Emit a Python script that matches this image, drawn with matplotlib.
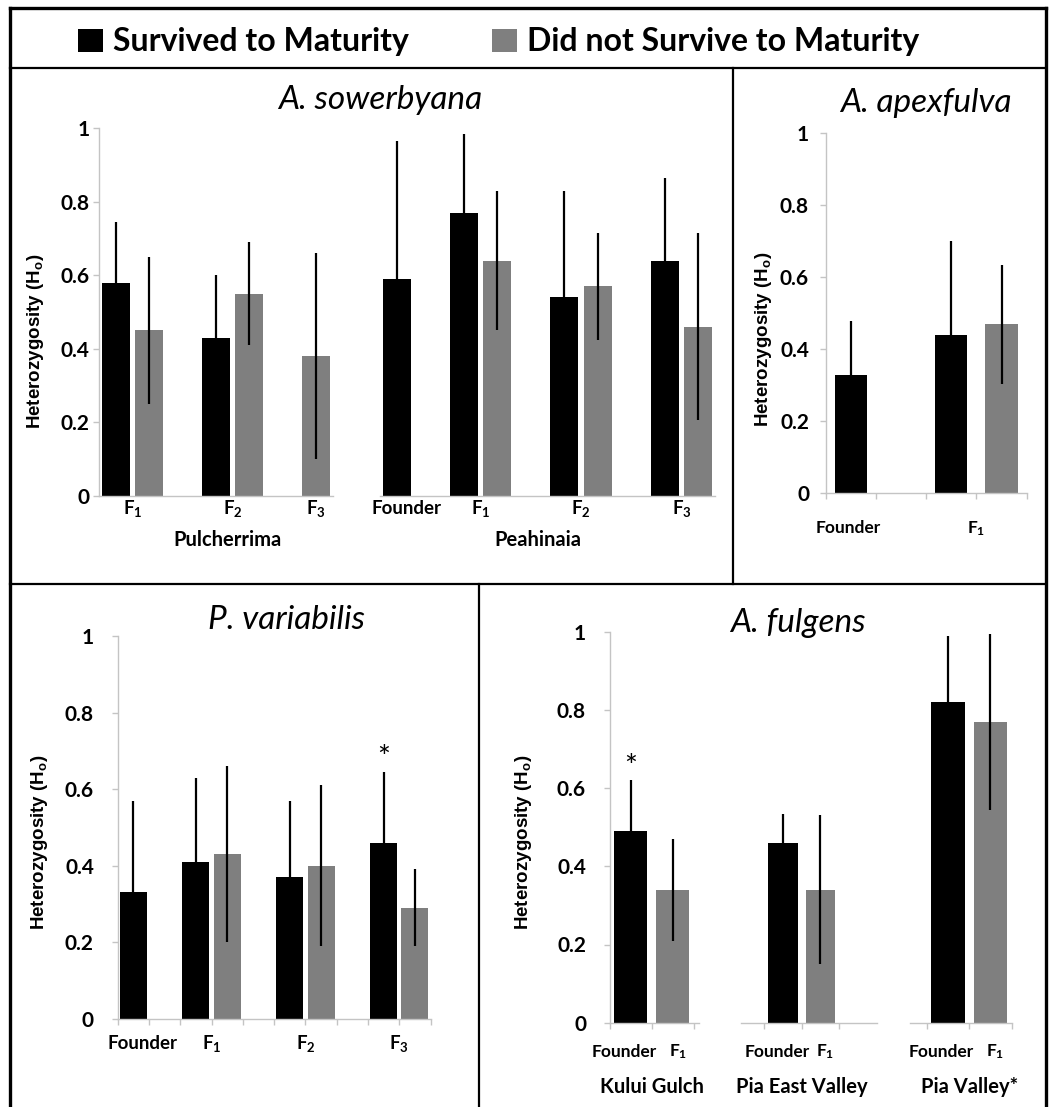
import numpy as np
import matplotlib
matplotlib.use("Agg")
import matplotlib.pyplot as plt
from matplotlib.lines import Line2D
from matplotlib.patches import Patch

plt.rcParams["font.family"] = ["Lato", "DejaVu Sans"]
plt.rcParams["mathtext.default"] = "regular"

W, H = 1053, 1107
SURV_COL = "#000000"
DIED_COL = "#7f7f7f"
AXIS_COL = "#c4c4c4"
nan = np.nan

# A. sowerbyana - Pulcherrima
pul_cats = ["F$_1$", "F$_2$", "F$_3$"]
pul_surv = [0.58, 0.43, nan]
pul_surv_sd = [0.165, 0.17, nan]
pul_died = [0.45, 0.55, 0.38]
pul_died_sd = [0.20, 0.14, 0.28]

# A. sowerbyana - Peahinaia
pea_cats = ["Founder", "F$_1$", "F$_2$", "F$_3$"]
pea_surv = [0.59, 0.77, 0.54, 0.64]
pea_surv_sd = [0.375, 0.215, 0.29, 0.225]
pea_died = [nan, 0.64, 0.57, 0.46]
pea_died_sd = [nan, 0.19, 0.145, 0.255]

# A. apexfulva
apx_cats = ["Founder", "F$_1$"]
apx_surv = [0.33, 0.44]
apx_surv_sd = [0.15, 0.26]
apx_died = [nan, 0.47]
apx_died_sd = [nan, 0.165]

# P. variabilis
pva_cats = ["Founder", "F$_1$", "F$_2$", "F$_3$"]
pva_surv = [0.33, 0.41, 0.37, 0.46]
pva_surv_sd = [0.24, 0.22, 0.20, 0.185]
pva_died = [nan, 0.43, 0.40, 0.29]
pva_died_sd = [nan, 0.23, 0.21, 0.10]
pva_star = [False, False, False, True]

# A. fulgens: founder (black) and F1 (grey) per site
ful_sites = ["Kului Gulch", "Pia East Valley", "Pia Valley*"]
ful_bar_labels = ["Founder", "F$_1$"]
ful_founder = [0.49, 0.46, 0.82]
ful_founder_sd = [0.13, 0.075, 0.17]
ful_f1 = [0.34, 0.34, 0.77]
ful_f1_sd = [0.13, 0.19, 0.225]
ful_star = [True, False, False]

yticks = [0, 0.2, 0.4, 0.6, 0.8, 1]
ytick_labels = ["0", "0.2", "0.4", "0.6", "0.8", "1"]
ylab = "Heterozygosity (H$_\\mathregular{o}$)"

fig = plt.figure(figsize=(W / 100, H / 100), dpi=100)


def slots(cats, surv, died):
    # one slot per bar, an empty slot between generations (Excel style)
    xs, xd, lab = [], [], []
    i = 0
    for k in range(len(cats)):
        occ = []
        if np.isnan(surv[k]):
            xs.append(nan)
        else:
            xs.append(i); occ.append(i); i += 1
        if np.isnan(died[k]):
            xd.append(nan)
        else:
            xd.append(i); occ.append(i); i += 1
        c = np.mean(occ)
        if len(occ) == 1 and k < len(cats) - 1:
            c += 0.3
        lab.append(c)
        i += 1
    return np.array(xs, float), np.array(xd, float), lab, i - 1


def make_ax(x0, slot_px, xlim, ybase, ytop, show_y=True, xticklen=4, ypad=3):
    x1 = x0 + (xlim[1] - xlim[0]) * slot_px
    ax = fig.add_axes([x0 / W, 1 - ybase / H, (x1 - x0) / W, (ybase - ytop) / H])
    ax.set_xlim(xlim)
    ax.set_ylim(0, 1)
    for s in ["top", "right"]:
        ax.spines[s].set_visible(False)
    ax.spines["bottom"].set_color(AXIS_COL)
    ax.spines["left"].set_color(AXIS_COL)
    ax.spines["bottom"].set_linewidth(1.0)
    ax.spines["left"].set_linewidth(1.0)
    n = int(round(xlim[1] + 0.5))
    ax.set_xticks(np.arange(0, max(n, 2) + 1) - 0.5)
    ax.set_xticklabels([])
    ax.tick_params(axis="x", length=xticklen, color=AXIS_COL, width=1.0)
    if show_y:
        ax.set_yticks(yticks)
        ax.set_yticklabels(ytick_labels, fontsize=15, fontweight="bold")
        ax.tick_params(axis="y", length=4, color=AXIS_COL, width=1.0, pad=ypad)
    else:
        ax.spines["left"].set_visible(False)
        ax.set_yticks([])
    ax.patch.set_alpha(0)
    return ax


def bars(ax, x, vals, sd, color, width):
    vals = np.array(vals, float)
    sd = np.array(sd, float)
    m = ~np.isnan(vals)
    ax.bar(x[m], vals[m], width=width, color=color, zorder=2)
    ax.errorbar(x[m], vals[m], yerr=sd[m], fmt="none", ecolor="black",
                elinewidth=1.6, capsize=0, zorder=3)


def cat_labels(ax, xs, labels, dy, size):
    for x, t in zip(xs, labels):
        ax.annotate(t, xy=(x, 0), xycoords=("data", "axes fraction"),
                    xytext=(0, -dy), textcoords="offset pixels",
                    ha="center", va="center", fontsize=size, fontweight="bold")


def group_label(ax, x, text, dy):
    ax.annotate(text, xy=(x, 0), xycoords=("data", "axes fraction"),
                xytext=(0, -dy), textcoords="offset pixels",
                ha="center", va="center", fontsize=14.5, fontweight="bold")


def ftext(x, y, s, **kw):
    fig.text(x / W, 1 - y / H, s, **kw)


def star(ax, x, top):
    ax.text(x, top + 0.035, "*", ha="center", va="center", fontsize=22)


# ---- A. sowerbyana ----
for cats, surv, ssd, died, dsd, x0, slot_px, grp, show_y in [
        (pul_cats, pul_surv, pul_surv_sd, pul_died, pul_died_sd, 99, 33.4, "Pulcherrima", True),
        (pea_cats, pea_surv, pea_surv_sd, pea_died, pea_died_sd, 380, 33.5, "Peahinaia", False)]:
    xs, xd, lab, n = slots(cats, surv, died)
    ax = make_ax(x0, slot_px, (-0.5, n - 0.5), 495.7, 128.3, show_y=show_y, xticklen=0, ypad=3)
    bars(ax, xs, surv, ssd, SURV_COL, 0.84)
    bars(ax, xd, died, dsd, DIED_COL, 0.84)
    cat_labels(ax, lab, cats, 13, 13.5)
    group_label(ax, np.mean(lab), grp, 44)

ftext(380, 100, "A. sowerbyana", ha="center", va="center", fontsize=24, style="italic")
ftext(36, 341, ylab, ha="center", va="center", rotation=90, fontsize=13.5,
      fontweight="bold", family=["Liberation Sans", "DejaVu Sans"])

# ---- A. apexfulva ----
xs, xd, lab, n = slots(apx_cats, apx_surv, apx_died)
ax = make_ax(825.7, 50.25, (-0.5, n - 0.5), 493.3, 133.3, ypad=8)
bars(ax, xs, apx_surv, apx_surv_sd, SURV_COL, 0.64)
bars(ax, xd, apx_died, apx_died_sd, DIED_COL, 0.64)
cat_labels(ax, [lab[0] - 0.35, lab[1]], apx_cats, 35, 12.5)
ftext(926, 103, "A. apexfulva", ha="center", va="center", fontsize=24, style="italic")
ftext(764, 339, ylab, ha="center", va="center", rotation=90, fontsize=13.5,
      fontweight="bold", family=["Liberation Sans", "DejaVu Sans"])

# ---- P. variabilis ----
xs, xd, lab, n = slots(pva_cats, pva_surv, pva_died)
ax = make_ax(117.6, 31.3, (-0.5, n - 0.5), 1018.7, 636, ypad=13)
bars(ax, xs, pva_surv, pva_surv_sd, SURV_COL, 0.86)
bars(ax, xd, pva_died, pva_died_sd, DIED_COL, 0.86)
cat_labels(ax, lab, pva_cats, 25, 13.5)
for k, s in enumerate(pva_star):
    if s:
        star(ax, xs[k], pva_surv[k] + pva_surv_sd[k])
ftext(286, 620, "P. variabilis", ha="center", va="center", fontsize=24, style="italic")
ftext(40, 842, ylab, ha="center", va="center", rotation=90, fontsize=13.5,
      fontweight="bold", family=["Liberation Sans", "DejaVu Sans"])

# ---- A. fulgens ----
ful_layout = [(609.7, 42.0, (-0.5, 1.63)),
              (741.3, 42.0, (-1.11, 2.11)),
              (909.5, 42.4, (-0.91, 1.5))]
for k, site in enumerate(ful_sites):
    x0, slot_px, xlim = ful_layout[k]
    ax = make_ax(x0, slot_px, xlim, 1022.7, 631.7, show_y=(k == 0), ypad=13)
    ax.set_xticks([-0.5, 0.5, 1.5])
    pos = np.arange(2, dtype=float)
    bars(ax, pos[:1], [ful_founder[k]], [ful_founder_sd[k]], SURV_COL, 0.79)
    bars(ax, pos[1:], [ful_f1[k]], [ful_f1_sd[k]], DIED_COL, 0.79)
    cat_labels(ax, pos + np.array([-0.15, 0.12]), ful_bar_labels, 29, 12.5)
    group_label(ax, pos.mean(), site, 64)
    if ful_star[k]:
        star(ax, 0, ful_founder[k] + ful_founder_sd[k])
ftext(798, 623, "A. fulgens", ha="center", va="center", fontsize=24, style="italic")
ftext(524, 842, ylab, ha="center", va="center", rotation=90, fontsize=13.5,
      fontweight="bold", family=["Liberation Sans", "DejaVu Sans"])

# ---- legend ----
handles = [Patch(facecolor=SURV_COL, edgecolor="none"),
           Patch(facecolor=DIED_COL, edgecolor="none")]
fig.legend(handles, ["Survived to Maturity", "Did not Survive to Maturity"],
           loc="center", bbox_to_anchor=(498.5 / W, 1 - 42 / H), ncol=2,
           frameon=False, prop={"size": 23, "weight": "bold"},
           handlelength=0.8, handleheight=0.7, handletextpad=0.3,
           columnspacing=2.6, borderaxespad=0)

# ---- panel frames ----
def fline(xa, ya, xb, yb, lw=2.0):
    fig.add_artist(Line2D([xa / W, xb / W], [1 - ya / H, 1 - yb / H],
                          transform=fig.transFigure, color="black", lw=lw,
                          solid_capstyle="projecting"))

fline(10, 8, 1046, 8, 2.4)
fline(10, 8, 10, H, 2.4)
fline(1046, 8, 1046, H, 2.4)
fline(10, 68, 1046, 68, 1.6)
fline(10, 584, 1046, 584, 1.6)
fline(733, 68, 733, 584, 1.6)
fline(479, 584, 479, H, 1.6)

fig.savefig("out.png", dpi=100)
